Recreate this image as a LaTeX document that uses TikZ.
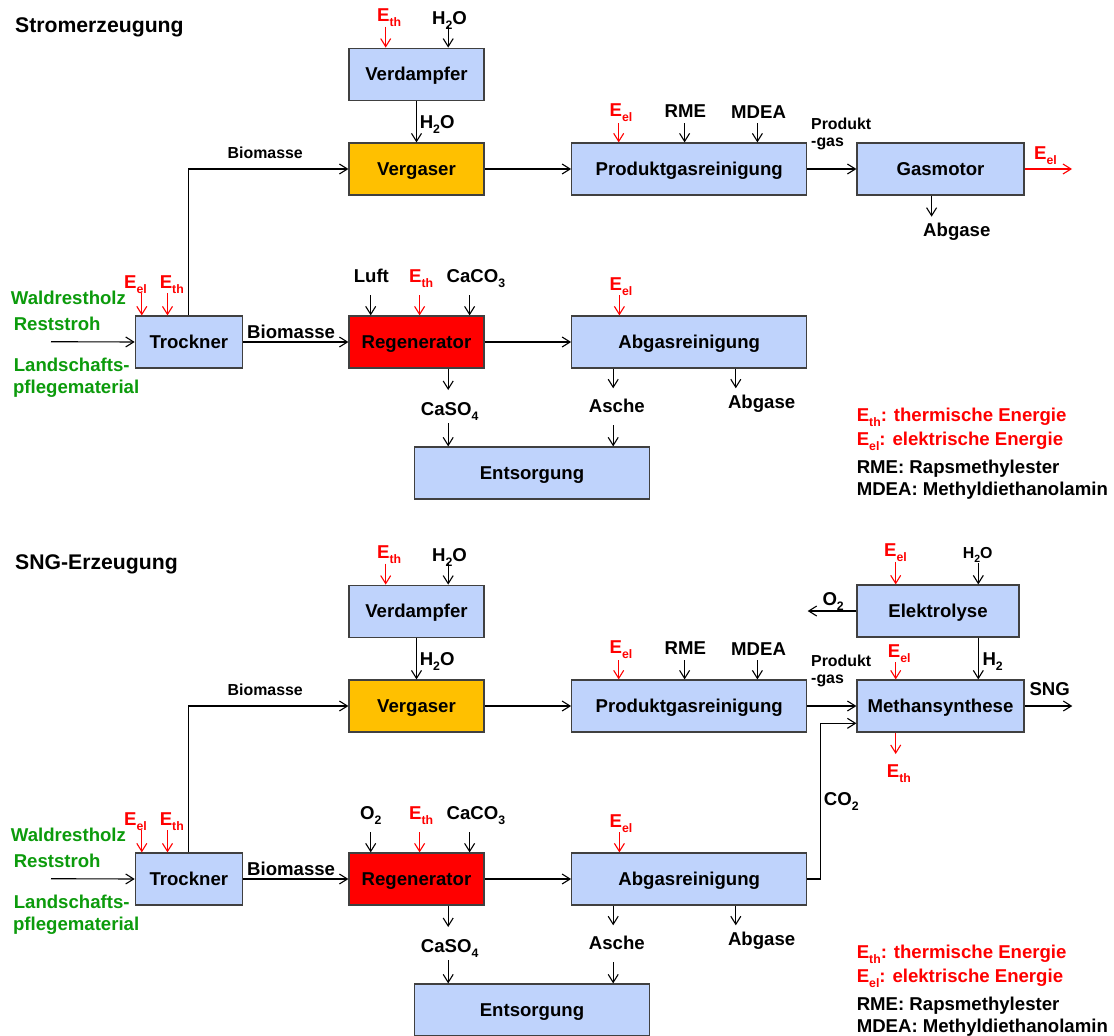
\documentclass[tikz,border=0pt]{standalone}
\usepackage{fontspec}
\usepackage{graphicx}
\setmainfont{Liberation Sans}
\usetikzlibrary{arrows.meta}

\definecolor{boxblue}{RGB}{191,211,252}
\definecolor{gasorange}{RGB}{255,192,0}
\definecolor{regred}{RGB}{255,0,0}
\definecolor{feedgreen}{RGB}{12,155,12}
\definecolor{edgegray}{RGB}{64,64,64}
\definecolor{flowred}{RGB}{255,0,0}

% lowered, reduced index text (E_th, H_2O, ...)
\newcommand\dn[1]{\raisebox{-0.28em}{\scalebox{0.66}{#1}}}
\newcommand\Eth{E\dn{th}}
\newcommand\Eel{E\dn{el}}

% Part shared by both process chains: #1 name suffix, #2 heading,
% #3 first regenerator input, #4 its left edge
\newcommand\plantcore[4]{%
  \node[heading] (title#1) at (15,32.3) {#2};
  % process units
  \node[proc,minimum width=135pt] (verd#1) at (416.5,74.2) {Verdampfer};
  \node[proc,minimum width=135pt,fill=gasorange] (verg#1) at (416.5,169) {Vergaser};
  \node[proc,minimum width=235pt] (pgr#1) at (689.2,169) {Produktgasreinigung};
  \node[proc,minimum width=107pt] (tro#1) at (188.8,342) {Trockner};
  \node[proc,minimum width=135pt,fill=regred] (reg#1) at (416.5,342) {Regenerator};
  \node[proc,minimum width=235pt] (abg#1) at (689.2,342) {Abgasreinigung};
  \node[proc,minimum width=235pt] (ent#1) at (532,473) {Entsorgung};
  % evaporator feeds
  \node[energy] (vEth#1) at (377,21.7) {\Eth};
  \coordinate (vEthS#1) at (385.7,26.7);
  \draw[eflow] (vEthS#1) -- (vEthS#1 |- verd#1.north);
  \node[lbl] (vH2O#1) at (432,24) {H\dn{2}O};
  \coordinate (vH2OS#1) at (448.2,26);
  \draw[flow] (vH2OS#1) -- (vH2OS#1 |- verd#1.north);
  % steam to gasifier
  \node[lbl] (mH2O#1) at (419.6,128) {H\dn{2}O};
  \draw[flow] (verd#1) -- (verg#1);
  % dried biomass to gasifier
  \node[small] (bmA#1) at (227.5,158.7) {Biomasse};
  \draw[flow] (tro#1.north) |- (verg#1.west);
  \draw[flow] (verg#1) -- (pgr#1);
  % gas cleaning feeds
  \node[energy] (pEel#1) at (609.5,116.7) {\Eel};
  \coordinate (pEelS#1) at (618.7,123.3);
  \draw[eflow] (pEelS#1) -- (pEelS#1 |- pgr#1.north);
  \node[lbl] (rme#1) at (664.5,117.3) {RME};
  \coordinate (rmeS#1) at (684.6,123.3);
  \draw[flow] (rmeS#1) -- (rmeS#1 |- pgr#1.north);
  \node[lbl] (mdea#1) at (731,118) {MDEA};
  \coordinate (mdeaS#1) at (757.4,123.3);
  \draw[flow] (mdeaS#1) -- (mdeaS#1 |- pgr#1.north);
  \node[small] (pgA#1) at (811,129.3) {Produkt};
  \node[small] (pgB#1) at (811,146.7) {-gas};
  % raw materials
  \node[feed] (f1#1) at (10.7,304) {Waldrestholz};
  \node[feed] (f2#1) at (13.6,330) {Reststroh};
  \node[feed] (f3#1) at (13.6,371.7) {Landschafts-};
  \node[feed] (f4#1) at (12.9,393) {pflegematerial};
  \coordinate (feedin#1) at (51,341.7);
  \draw[flow] (feedin#1) -- (tro#1.west);
  % dryer energy
  \node[energy] (tEel#1) at (124,288.3) {\Eel};
  \coordinate (tEelS#1) at (141.8,293.3);
  \draw[eflow] (tEelS#1) -- (tEelS#1 |- tro#1.north);
  \node[energy] (tEth#1) at (159.6,288.3) {\Eth};
  \coordinate (tEthS#1) at (167.5,293.3);
  \draw[eflow] (tEthS#1) -- (tEthS#1 |- tro#1.north);
  % biomass to regenerator
  \node[lbl] (bmB#1) at (247,338.3) {Biomasse};
  \draw[flow] (tro#1) -- (reg#1);
  % regenerator feeds
  \node[lbl] (rIn#1) at (#4,282.3) {#3};
  \coordinate (rInS#1) at (370.7,295);
  \draw[flow] (rInS#1) -- (rInS#1 |- reg#1.north);
  \node[energy] (rEth#1) at (409,282.3) {\Eth};
  \coordinate (rEthS#1) at (419.6,295);
  \draw[eflow] (rEthS#1) -- (rEthS#1 |- reg#1.north);
  \node[lbl] (caco#1) at (446.4,282) {CaCO\dn{3}};
  \coordinate (cacoS#1) at (469.6,295);
  \draw[flow] (cacoS#1) -- (cacoS#1 |- reg#1.north);
  \draw[flow] (reg#1) -- (abg#1);
  % flue gas cleaning
  \node[energy] (aEel#1) at (609.5,290) {\Eel};
  \coordinate (aEelS#1) at (619.4,295);
  \draw[eflow] (aEelS#1) -- (aEelS#1 |- abg#1.north);
  % residues
  \node[lbl] (caso#1) at (420.7,415) {CaSO\dn{4}};
  \coordinate (csA#1) at (448.2,390);
  \coordinate (csB#1) at (448.2,423.3);
  \draw[flow] (reg#1.south -| csA#1) -- (csA#1);
  \draw[flow] (csB#1) -- (csB#1 |- ent#1.north);
  \node[lbl] (asche#1) at (588.7,412.7) {Asche};
  \coordinate (asA#1) at (613.2,388.3);
  \coordinate (asB#1) at (613.2,425);
  \draw[flow] (abg#1.south -| asA#1) -- (asA#1);
  \draw[flow] (asB#1) -- (asB#1 |- ent#1.north);
  \node[lbl] (abgase#1) at (727.8,408.3) {Abgase};
  \coordinate (abA#1) at (735.8,388.3);
  \draw[flow] (abg#1.south -| abA#1) -- (abA#1);
  % legend
  \node[lbl,text=flowred] (lgA#1) at (856.6,421.7) {\Eth: thermische Energie};
  \node[lbl,text=flowred] (lgB#1) at (856.6,445) {\Eel: elektrische Energie};
  \node[lbl] (lgC#1) at (856.6,473.3) {RME: Rapsmethylester};
  \node[lbl] (lgD#1) at (856.6,495) {MDEA: Methyldiethanolamin};
}

\begin{document}
\begin{tikzpicture}[x=1pt,y=-1pt,
  proc/.style={draw=edgegray,line width=1.2pt,fill=boxblue,minimum height=52pt,
    inner sep=0pt,text height=13.4pt,text depth=0pt,
    font=\fontsize{18.6}{20}\selectfont\bfseries},
  lbl/.style={anchor=base west,inner sep=0pt,font=\fontsize{18.6}{20}\selectfont\bfseries},
  small/.style={anchor=base west,inner sep=0pt,font=\fontsize{15.9}{18}\selectfont\bfseries},
  heading/.style={anchor=base west,inner sep=0pt,font=\fontsize{21.2}{24}\selectfont\bfseries},
  energy/.style={lbl,text=flowred},
  feed/.style={lbl,text=feedgreen},
  flow/.style={-{Straight Barb[length=8pt,width=10pt]},line width=1.1pt},
  eflow/.style={flow,draw=flowred}]

\useasboundingbox (0,0) rectangle (1114,1036);
\fill[white] (0,0) rectangle (1114,1036);

% ---------------- power generation ----------------
\plantcore{A}{Stromerzeugung}{Luft}{353.6}
\node[proc,minimum width=167pt] (gas) at (940.5,169) {Gasmotor};
\draw[flow] (pgrA) -- (gas);
\node[energy] (gEel) at (1034,159) {\Eel};
\coordinate (elout) at (1072,169);
\draw[eflow] (gas) -- (elout);
\node[lbl] (gAbgase) at (923,236.7) {Abgase};
\coordinate (gAb) at (931.6,216.7);
\draw[flow] (gas.south -| gAb) -- (gAb);

% ---------------- SNG production ----------------
\begin{scope}[yshift=-537pt]
\plantcore{B}{SNG-Erzeugung}{O\dn{2}}{360}
\end{scope}
\node[proc,minimum width=162pt] (ely) at (938,611) {Elektrolyse};
\node[proc,minimum width=167pt] (meth) at (940.5,706) {Methansynthese};
\node[energy] (eEel) at (884,556.7) {\Eel};
\coordinate (eEelS) at (895.7,561.7);
\draw[eflow] (eEelS) -- (eEelS |- ely.north);
\node[small] (eH2O) at (962.7,558.3) {H\dn{2}O};
\coordinate (eH2OS) at (978.3,563);
\draw[flow] (eH2OS) -- (eH2OS |- ely.north);
\coordinate (o2out) at (807.7,611);
\draw[flow] (ely) -- (o2out);
\node[lbl] (eO2) at (822.3,605) {O\dn{2}};
\node[energy] (mEel) at (887.7,657.7) {\Eel};
\coordinate (mEelS) at (895.7,662);
\draw[eflow] (mEelS) -- (mEelS |- meth.north);
\coordinate (h2x) at (978.3,660);
\draw[flow] (ely.south -| h2x) -- (meth.north -| h2x);
\node[lbl] (mH2) at (982.3,665) {H\dn{2}};
\draw[flow] (pgrB) -- (meth);
\node[lbl] (sng) at (1029.3,695) {SNG};
\coordinate (sngout) at (1072.3,706);
\draw[flow] (meth) -- (sngout);
\coordinate (ethout) at (895.7,754);
\draw[eflow] (meth.south -| ethout) -- (ethout);
\node[energy] (mEth) at (886.7,777.3) {\Eth};
\coordinate (co2turn) at (820.7,723.3);
\draw[flow] (abgB.east) -| (co2turn) -- (co2turn -| meth.west);
\node[lbl] (co2) at (823.7,805) {CO\dn{2}};

\end{tikzpicture}
\end{document}
